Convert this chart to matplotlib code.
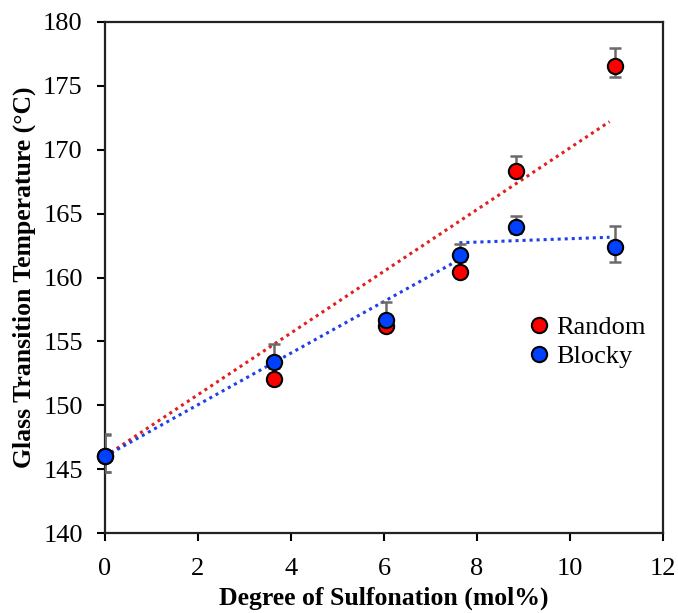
import matplotlib
matplotlib.use("Agg")
import matplotlib.pyplot as plt

# Data
x_vals = [0.0, 3.64, 6.04, 7.63, 8.84, 10.96]
random_tg = [146.0, 152.03, 156.2, 160.41, 168.36, 176.56]
random_err_lo = [1.2, 0.3, 0.3, 0.3, 0.3, 0.9]
random_err_hi = [1.7, 0.3, 0.3, 0.3, 1.17, 1.4]
blocky_tg = [146.0, 153.41, 156.67, 161.76, 163.98, 162.36]
blocky_err_lo = [1.2, 0.5, 0.5, 0.5, 0.5, 1.16]
blocky_err_hi = [1.74, 1.35, 1.39, 0.84, 0.86, 1.69]

# Trend lines (endpoints)
random_fit_x = [0.0, 10.85]
random_fit_y = [146.0, 172.2]
blocky_fit1_x = [0.0, 7.62]
blocky_fit1_y = [146.0, 161.4]
blocky_fit2_x = [7.62, 10.85]
blocky_fit2_y = [162.72, 163.15]

x_ticks = [0, 2, 4, 6, 8, 10, 12]
y_ticks = [140, 145, 150, 155, 160, 165, 170, 175, 180]

plt.rcParams['font.family'] = ['Liberation Serif', 'DejaVu Serif']

fig = plt.figure(figsize=(6.78, 6.13), dpi=100)
ax = fig.add_axes([105/678, 1-533/613, (663-105)/678, (533-22)/613])

red = '#FF0000'
blue = '#0040FF'
red_line = '#E0201E'
blue_line = '#1F3FE8'
errc = '#6A6A6A'

ax.plot(random_fit_x, random_fit_y, color=red_line, lw=2.2, linestyle=(0, (1, 1.3)), zorder=2)
ax.plot(blocky_fit1_x, blocky_fit1_y, color=blue_line, lw=2.2, linestyle=(0, (1, 1.3)), zorder=2)
ax.plot(blocky_fit2_x, blocky_fit2_y, color=blue_line, lw=2.2, linestyle=(0, (1, 1.3)), zorder=2)

ax.errorbar(x_vals, random_tg, yerr=[random_err_lo, random_err_hi], fmt='none', ecolor=errc,
            elinewidth=1.8, capsize=4, capthick=1.8, zorder=3)
ax.errorbar(x_vals, blocky_tg, yerr=[blocky_err_lo, blocky_err_hi], fmt='none', ecolor=errc,
            elinewidth=1.8, capsize=4, capthick=1.8, zorder=3)

ax.plot(x_vals, random_tg, 'o', color=red, markeredgecolor='black', markeredgewidth=1.5,
        markersize=11, label='Random', zorder=4, clip_on=False)
ax.plot(x_vals, blocky_tg, 'o', color=blue, markeredgecolor='black', markeredgewidth=1.5,
        markersize=11, label='Blocky', zorder=5, clip_on=False)

ax.set_xlim(0, 12)
ax.set_ylim(140, 180)
ax.set_xticks(x_ticks)
ax.set_yticks(y_ticks)
ax.tick_params(axis='both', direction='out', length=6, width=1.5, labelsize=19, colors='black')
ax.tick_params(axis='x', pad=12)
ax.tick_params(axis='y', pad=10)

for s in ax.spines.values():
    s.set_linewidth(1.6)
    s.set_color('#222222')

ax.set_xlabel('Degree of Sulfonation (mol%)', fontsize=18.5, fontweight='bold', labelpad=5)
ax.set_ylabel('Glass Transition Temperature (°C)', fontsize=18.5, fontweight='bold', labelpad=5)

leg = ax.legend(loc='center left', bbox_to_anchor=(0.7545, 0.374), frameon=False, fontsize=19,
                handlelength=1.0, handletextpad=0.15, borderpad=0, borderaxespad=0,
                labelspacing=0.2, markerscale=1.0)

fig.savefig('out.png', dpi=100)
